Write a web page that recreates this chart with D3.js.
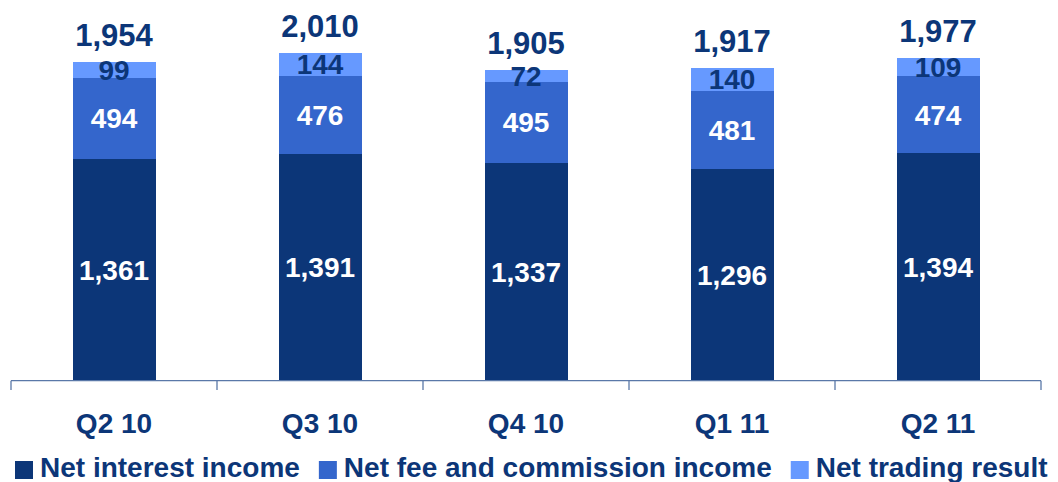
<!DOCTYPE html>
<html>
<head>
<meta charset="utf-8">
<script src="https://cdn.jsdelivr.net/npm/d3@7"></script>
<style>
  html, body { margin: 0; padding: 0; background: #fff; overflow: hidden; }
  text { font-family: "Liberation Sans", Arial, sans-serif; font-weight: bold; }
</style>
</head>
<body>
<script>
// chart data
var quarters = ["Q2 10", "Q3 10", "Q4 10", "Q1 11", "Q2 11"];
var netInterest = [1361, 1391, 1337, 1296, 1394];
var netFee = [494, 476, 495, 481, 474];
var netTrading = [99, 144, 72, 140, 109];
var totals = [1954, 2010, 1905, 1917, 1977];
var seriesNames = ["Net interest income", "Net fee and commission income", "Net trading result"];

var width = 1058;
var height = 482;
var navy = "#0c3678";
var colors = ["#0c3678", "#3466cc", "#6699ff"];
var labelColors = ["#fff", "#fff", navy];

var svg = d3.select("body")
            .append("svg")
            .attr("width", width)
            .attr("height", height);

// band scale for the quarters, linear for the values
var x = d3.scaleBand()
          .domain(quarters)
          .range([11, 1041])
          .paddingInner(0)
          .paddingOuter(0);

var y = d3.scaleLinear()
          .domain([0, 2010])
          .range([380.7, 52.7]);

var barW = 83;

// stack the three series
var rows = quarters.map(function(q, i) {
    return { q: q, a: netInterest[i], b: netFee[i], c: netTrading[i] };
});
var stack = d3.stack().keys(["a", "b", "c"]);
var layers = stack(rows);

var groups = svg.selectAll("g.layer")
    .data(layers)
    .enter()
    .append("g")
    .attr("class", "layer")
    .style("fill", function(d, i) { return colors[i]; });

groups.selectAll("rect")
    .data(function(d) { return d; })
    .enter()
    .append("rect")
    .attr("x", function(d) { return x(d.data.q) + x.bandwidth() / 2 - barW / 2; })
    .attr("y", function(d) { return y(d[1]); })
    .attr("width", barW)
    .attr("height", function(d) { return y(d[0]) - y(d[1]); })
    .attr("shape-rendering", "crispEdges");

// labels inside segments
layers.forEach(function(layer, li) {
    svg.selectAll("text.seg" + li)
        .data(layer)
        .enter()
        .append("text")
        .attr("class", "seg" + li)
        .attr("x", function(d) { return x(d.data.q) + x.bandwidth() / 2; })
        .attr("y", function(d) { return (y(d[0]) + y(d[1])) / 2; })
        .attr("dy", "0.36em")
        .attr("text-anchor", "middle")
        .style("font-size", "28px")
        .style("fill", labelColors[li])
        .text(function(d) { return d3.format(",")(d[1] - d[0]); });
});

// totals above bars
svg.selectAll("text.total")
    .data(totals)
    .enter()
    .append("text")
    .attr("class", "total")
    .attr("x", function(d, i) { return x(quarters[i]) + x.bandwidth() / 2; })
    .attr("y", function(d) { return y(d) - 16; })
    .attr("text-anchor", "middle")
    .style("font-size", "31px")
    .style("fill", navy)
    .text(function(d) { return d3.format(",")(d); });

// x axis with ticks between categories
var axis = svg.append("g");
axis.append("line")
    .attr("x1", 11).attr("x2", 1041)
    .attr("y1", 380.7).attr("y2", 380.7)
    .style("stroke", "#5a78a8")
    .style("stroke-width", 1.3);

var tickPos = quarters.map(function(q) { return x(q); }).concat([x.range()[1]]);
axis.selectAll("line.tick")
    .data(tickPos)
    .enter()
    .append("line")
    .attr("class", "tick")
    .attr("x1", function(d) { return d; })
    .attr("x2", function(d) { return d; })
    .attr("y1", 380.7)
    .attr("y2", 390)
    .style("stroke", "#5a78a8")
    .style("stroke-width", 1.3);

axis.selectAll("text.cat")
    .data(quarters)
    .enter()
    .append("text")
    .attr("class", "cat")
    .attr("x", function(d) { return x(d) + x.bandwidth() / 2; })
    .attr("y", 433)
    .attr("text-anchor", "middle")
    .style("font-size", "28px")
    .style("fill", navy)
    .text(function(d) { return d; });

// legend
var legend = svg.append("g");
var lx = 15;
seriesNames.forEach(function(name, i) {
    legend.append("rect")
        .attr("x", lx)
        .attr("y", 461)
        .attr("width", 18)
        .attr("height", 18)
        .style("fill", colors[i]);
    var t = legend.append("text")
        .attr("x", lx + 25)
        .attr("y", 477)
        .style("font-size", "28px")
        .style("fill", navy)
        .text(name);
    lx = lx + 25 + t.node().getComputedTextLength() + 19;
});
</script>
</body>
</html>
